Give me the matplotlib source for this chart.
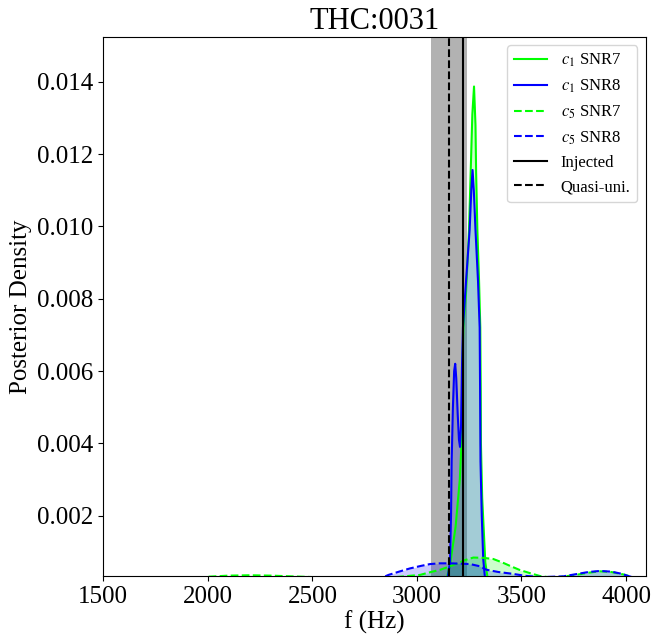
import matplotlib
matplotlib.use("Agg")
import matplotlib.pyplot as plt

plt.rcParams['font.family'] = ['Liberation Serif', 'DejaVu Serif']
plt.rcParams['mathtext.fontset'] = 'stix'

title = "THC:0031"

# c1 SNR7 (green solid)
c1_snr7_f = [3100, 3140, 3160, 3185, 3205, 3213, 3217, 3222, 3235, 3249, 3257, 3265, 3273,
             3280, 3283, 3289, 3297, 3303, 3305, 3306, 3312, 3327, 3340, 3380]
c1_snr7_d = [0.0, 0.0002, 0.0007, 0.0017, 0.0030, 0.0040, 0.0060, 0.0072, 0.0082, 0.0099, 0.0115, 0.0131, 0.01387,
             0.0128, 0.0115, 0.0099, 0.0085, 0.0072, 0.0055, 0.0040, 0.0025, 0.0007, 0.0002, 0.0]

# c1 SNR8 (blue solid)
c1_snr8_f = [3100, 3145, 3158, 3163, 3166, 3172, 3178, 3183, 3188, 3195, 3201, 3206, 3211, 3215, 3220,
             3235, 3252, 3260, 3266, 3272, 3280, 3292, 3300, 3302, 3304, 3310, 3317, 3325, 3360]
c1_snr8_d = [0.0, 0.0002, 0.0007, 0.0020, 0.0035, 0.0050, 0.0060, 0.0062, 0.0058, 0.0048, 0.0041, 0.0039, 0.0045, 0.0060, 0.0072,
             0.0085, 0.0099, 0.0110, 0.01156, 0.0110, 0.0099, 0.0085, 0.0072, 0.0055, 0.0035, 0.0020, 0.0008, 0.0003, 0.0]

# c5 SNR7 (green dashed)
c5_snr7_f = [1900, 2000, 2100, 2200, 2300, 2400, 2500, 2700, 2900, 3015, 3060, 3110, 3150, 3190, 3230,
             3270, 3320, 3365, 3410, 3445, 3490, 3540, 3588, 3650, 3750, 3820, 3875, 3930, 3990, 4030]
c5_snr7_d = [0.0002, 0.00031, 0.00034, 0.00035, 0.00034, 0.00032, 0.0003, 0.00025, 0.0003, 0.00036, 0.00043, 0.0005, 0.00058, 0.00067, 0.00077,
             0.00084, 0.00083, 0.0008, 0.0007, 0.00061, 0.0005, 0.00041, 0.00033, 0.00028, 0.00035, 0.00042, 0.00046, 0.00044, 0.00037, 0.0003]

# c5 SNR8 (blue dashed)
c5_snr8_f = [2800, 2864, 2920, 2967, 3020, 3063, 3110, 3159, 3210, 3254, 3300, 3334, 3390, 3445, 3525,
             3600, 3700, 3760, 3820, 3875, 3930, 3980, 4010, 4060]
c5_snr8_d = [0.0002, 0.00036, 0.00046, 0.00054, 0.00061, 0.00066, 0.00068, 0.00068, 0.00067, 0.00066, 0.0006, 0.0005, 0.00044, 0.0004, 0.00033,
             0.0003, 0.00032, 0.00038, 0.00044, 0.00047, 0.00045, 0.00039, 0.00033, 0.00025]

injected_f = 3219
quasi_uni_f = 3153
band_lo, band_hi = 3067, 3238

fig = plt.figure(figsize=(6.53, 6.34), dpi=100)
ax = fig.add_axes([0.1582, 0.0915, 0.8306, 0.8502])

ax.axvspan(band_lo, band_hi, color='gray', alpha=0.6, lw=0, zorder=1)

series = [
    (c1_snr7_f, c1_snr7_d, 'lime', '-', r'$c_1$ SNR7'),
    (c1_snr8_f, c1_snr8_d, 'blue', '-', r'$c_1$ SNR8'),
    (c5_snr7_f, c5_snr7_d, 'lime', '--', r'$c_5$ SNR7'),
    (c5_snr8_f, c5_snr8_d, 'blue', '--', r'$c_5$ SNR8'),
]
for f, d, c, ls, lab in series:
    ax.fill_between(f, d, 0, color=c, alpha=0.2, lw=0, zorder=2)
for f, d, c, ls, lab in series:
    ax.plot(f, d, color=c, ls=ls, lw=1.5, label=lab, zorder=3)

ax.axvline(injected_f, color='black', lw=1.5, label='Injected', zorder=4)
ax.axvline(quasi_uni_f, color='black', lw=1.5, ls='--', label='Quasi-uni.', zorder=4)

ax.set_xlim(1500, 4094)
ax.set_ylim(0.00033, 0.01524)
ax.set_xticks([1500, 2000, 2500, 3000, 3500, 4000])
ax.set_yticks([0.002, 0.004, 0.006, 0.008, 0.010, 0.012, 0.014])
ax.set_yticklabels(['0.002', '0.004', '0.006', '0.008', '0.010', '0.012', '0.014'])
ax.tick_params(labelsize=18)
ax.set_xlabel('f (Hz)', fontsize=18, labelpad=2)
ax.set_ylabel('Posterior Density', fontsize=18)
ax.set_title(title, fontsize=22)
ax.legend(loc='upper right', fontsize=12)

fig.savefig('out.png', dpi=100)
